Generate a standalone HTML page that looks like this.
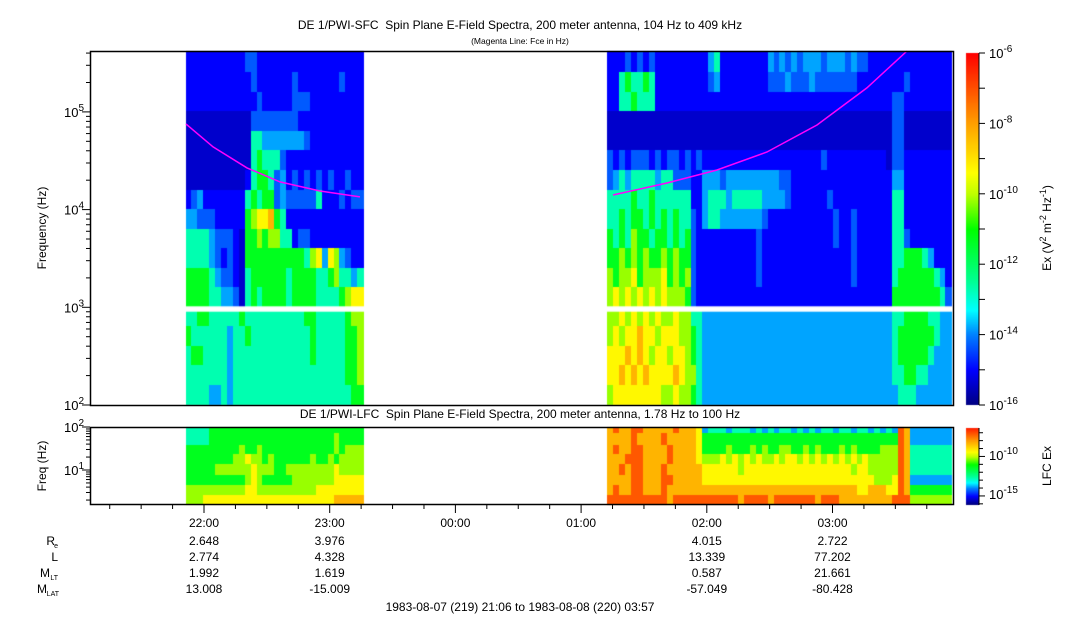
<!DOCTYPE html>
<html><head><meta charset="utf-8">
<style>
html,body{margin:0;padding:0;background:#fff;}
#wrap{position:relative;width:1083px;height:620px;overflow:hidden;font-family:"Liberation Sans",sans-serif;}
canvas,svg{position:absolute;left:0;top:0;}
svg text{white-space:pre;}
</style></head>
<body>
<div id="wrap">
<canvas id="cv" width="1083" height="620"></canvas>
<svg id="sv" width="1083" height="620" font-family="Liberation Sans, sans-serif"></svg>
</div>
<script>
// ---------- data ----------
const levelLog = [-15.9,-15.4,-15.0,-14.3,-13.8,-12.7,-11.3,-10.2,-9.3,-8.3,-7.1];
const segTimes = [[21.857,23.270],[25.214,27.95]];
const sfcRowTopLog = 5.6, sfcRowStep = 0.2;
const sfcA = [
"222222222233222222222222222222",
"222222222223222222322222223222",
"222222222222322222333222222222",
"111111111113333333322222222222",
"111111111115544444443222222222",
"111111111115655532222222222222",
"111111111125665342323232322322",
"234222222256566343333352223233",
"443332222267889652222222222222",
"555543332166767755233222222222",
"555543232166666666665784874322",
"666654332156666665666655675545",
"666655443156566665666655556788",
"556655555655555555556655555677",
"655555545565555555555655555667",
"566555545555555555555655555667",
"555555545555555555555555555667",
"555544545555555555555555555566"];
const sfcB = [
"22"+"232323"+"222222222"+"45"+"22222222"+"434343444344434332"+"2222222222222",
"22"+"565565"+"222222222"+"34"+"22222222"+"333433343333333222"+"2222232222222",
"22"+"556555"+"2222222222222222222"+"222222222222222222"+"2223322222222",
"11"+"111111"+"1111111111111111111"+"111111111111111111"+"1113311111111",
"11"+"111111"+"1111111111111111111"+"111111111111111111"+"1113311111111",
"3232333232332323"+"2222222222222222222232222222222"+"13322222222",
"3454555545533322"+"444344444444433"+"2222222222222222"+"24422222222",
"5555655655555522"+"455545555544443"+"2222223222222222"+"25522222222",
"5565665656565532"+"455444444432222"+"2222222322322222"+"25522222222",
"6565766566565632"+"222222222322222"+"2222222322322222"+"25532222222",
"6676767667676632"+"222222222322222"+"2222222222322222"+"25566654222",
"7677867778676732"+"222222222322222"+"2222222222322222"+"25666666542",
"7878787878777632"+"222222222222222"+"2222222222222222"+"26666666653",
"7787878787787755"+"444444444444444"+"4444444444444444"+"45566665544",
"7878898878887765"+"444444444444444"+"4444444444444444"+"45666666544",
"8889898788788765"+"444444444444444"+"4444444444444444"+"45666665444",
"8898989888898775"+"444444444444444"+"4444444444444444"+"45566554444",
"7888888887787765"+"444444444444444"+"4444444444444444"+"44555444444"];
const lfcEdgesLog = [2.0,1.84,1.58,1.35,1.12,0.88,0.63,0.40,0.21];
const lfcA = [
"555566666666666666666666666666",
"555566666666666666666666676666",
"666666666766766666666666676777",
"666666667787767666666766767777",
"666667777778777667777777787777",
"666666666678766666777777788888",
"777777777788777777777788888888",
"777888888888888888888888899999"];
const lfcB = [
"9a99aa99999a9998"+"455545554545455454545545545545454"+"a9"+"4444444",
"9999a9999a999998"+"666666666666666666666666666666666"+"a9"+"4444444",
"9a99aa9999a99998"+"666676667676677667676667676666777"+"a9"+"5555555",
"999aaa9999a99998"+"777878787877878878787878787877777"+"a9"+"5555555",
"99a9aa999a999999"+"888888788888888888888888878877777"+"a9"+"5555555",
"9999aa999aa99999"+"888888888888888888888888888887778"+"a9"+"4444444",
"9a99aa999a999999"+"999999999999999999999999998899988"+"a9"+"6666666",
"aaaaaaaaaa9aaaaa"+"aaaaaa9aaaa9aaaaaaa9aaa999999999a"+"aa"+"7777777"];
const fceHoursA = [21.857,22.072,22.342,22.605,22.923,23.241];
const fceHzA = [75200,43800,26700,19200,15500,13500];
const fceHoursB = [25.254,25.683,26.081,26.479,26.877,27.274,27.593];
const fceHzB = [14100,18700,25400,38900,73500,176000,420000];
const timeTicks = ["22:00","23:00","00:00","01:00","02:00","03:00"];
const timeTickHours = [22,23,24,25,26,27];
const ephemHours = [22,23,26,27];
const ephemRe = ["2.648","3.976","4.015","2.722"];
const ephemL = ["2.774","4.328","13.339","77.202"];
const ephemMLT = ["1.992","1.619","0.587","21.661"];
const ephemMLAT = ["13.008","-15.009","-57.049","-80.428"];

// ---------- scales ----------
const X0=90, X1=953;
const xT = h => 204 + (h-22)*125.7;
const ySfc = lf => 405 - (lf-2)*97.7;
const yLfc = lf => 470 - (lf-1)*43;
const stops=[[0,[0,0,128]],[0.1,[0,0,255]],[0.2,[0,128,255]],[0.27,[0,255,255]],[0.35,[0,255,150]],[0.5,[0,255,0]],[0.6,[190,255,0]],[0.66,[255,255,0]],[0.8,[255,160,0]],[1,[255,0,0]]];
function colorScale(v){
  let t=Math.max(0,Math.min(1,(v+16)/10));
  for(let i=1;i<stops.length;i++){ if(t<=stops[i][0]){const a=stops[i-1],b=stops[i];const f=(t-a[0])/(b[0]-a[0]);
    const c=a[1].map((x,k)=>Math.round(x+(b[1][k]-x)*f));return `rgb(${c[0]},${c[1]},${c[2]})`;}}
  return 'rgb(255,0,0)';
}
const ctx=document.getElementById('cv').getContext('2d');
function drawGrid(rows, seg, edgeFn, yFn){
  const x0=xT(seg[0]), x1=xT(seg[1]);
  rows.forEach((row,r)=>{
    const n=row.length, w=(x1-x0)/n;
    const [lt,lb]=edgeFn(r); const yt=yFn(lt), yb=yFn(lb);
    for(let c=0;c<n;c++){
      ctx.fillStyle=colorScale(levelLog[parseInt(row[c],16)]);
      ctx.fillRect(Math.floor(x0+c*w), Math.floor(yt), Math.ceil(w)+1, Math.ceil(yb-yt)+1);
    }
  });
}
const sfcEdge = r => [r===0?5.62:sfcRowTopLog-sfcRowStep*r, sfcRowTopLog-sfcRowStep*(r+1)];
drawGrid(sfcA, segTimes[0], sfcEdge, ySfc);
drawGrid(sfcB, segTimes[1], sfcEdge, ySfc);
const lfcEdge = r => [lfcEdgesLog[r], lfcEdgesLog[r+1]];
drawGrid(lfcA, segTimes[0], lfcEdge, yLfc);
drawGrid(lfcB, segTimes[1], lfcEdge, yLfc);
ctx.fillStyle='#fff';
ctx.fillRect(X0+1, ySfc(3.01), X1-X0-1, ySfc(2.955)-ySfc(3.01));
ctx.fillRect(0,0,1083,51); ctx.fillRect(0,405,1083,22); ctx.fillRect(0,505,1083,115);
ctx.fillRect(953,0,130,620);
for(let y=53;y<405;y++){ ctx.fillStyle=colorScale(-6-(y-53)/35.2); ctx.fillRect(966,y,13,1); }
for(let y=428;y<505;y++){ ctx.fillStyle=colorScale(-6.4-(y-428)/7.9); ctx.fillRect(966,y,13,1); }

// ---------- SVG ----------
const NS='http://www.w3.org/2000/svg', sv=document.getElementById('sv');
function el(tag,attrs,parent){const e=document.createElementNS(NS,tag);for(const k in attrs)e.setAttribute(k,attrs[k]);(parent||sv).appendChild(e);return e;}
function txt(x,y,s,size,anchor,parent){const t=el('text',{x:x,y:y,'font-size':size,'text-anchor':anchor||'middle',fill:'#000'},parent);t.textContent=s;return t;}
function pow10(x,y,exp,anchor,size){
  const t=el('text',{x:x,y:y,'font-size':size||13,'text-anchor':anchor||'end',fill:'#000'});
  const a=el('tspan',{},t);a.textContent='10';
  const b=el('tspan',{dy:-6,'font-size':(size||13)-3},t);b.textContent=exp;return t;
}
function fceLine(hs,hz,name){
  const p=hs.map((h,i)=>`${xT(h).toFixed(1)},${ySfc(Math.log10(hz[i])).toFixed(1)}`).join(' ');
  const l=el('polyline',{points:p,fill:'none',stroke:'#ff00ff','stroke-width':1.5});
  
  
}
fceLine(fceHoursA,fceHzA,'fce-line-segment-1');
fceLine(fceHoursB,fceHzB,'fce-line-segment-2');
const f1=el('rect',{x:90.5,y:51.5,width:863,height:354,fill:'none',stroke:'#000','stroke-width':1.5});

const f2=el('rect',{x:90.5,y:427.5,width:863,height:77,fill:'none',stroke:'#000','stroke-width':1.5});

el('line',{x1:979,y1:53,x2:979,y2:405,stroke:'#000'});
el('line',{x1:979,y1:428,x2:979,y2:505,stroke:'#000'});
const t1=txt(520,29,'DE 1/PWI-SFC  Spin Plane E-Field Spectra, 200 meter antenna, 104 Hz to 409 kHz',12);

const t2=txt(520,44,'(Magenta Line: Fce in Hz)',8.5);

const t3=txt(520,418,'DE 1/PWI-LFC  Spin Plane E-Field Spectra, 200 meter antenna, 1.78 Hz to 100 Hz',12);

const ya=el('text',{x:0,y:0,'font-size':12,'text-anchor':'middle',transform:'translate(46,228) rotate(-90)'});ya.textContent='Frequency (Hz)';

const yb=el('text',{x:0,y:0,'font-size':12,'text-anchor':'middle',transform:'translate(46,466) rotate(-90)'});yb.textContent='Freq (Hz)';

for(let k=2;k<=5;k++){for(let m=1;m<=9;m++){const lf=k+Math.log10(m);if(lf>5.62)break;const y=ySfc(lf);
  el('line',{x1:m===1?82:86,y1:y,x2:90,y2:y,stroke:'#000'});}
  pow10(84,ySfc(k)+5,String(k));}
for(let k=0;k<=2;k++){for(let m=1;m<=9;m++){const lf=k+Math.log10(m);if(lf<0.25||lf>2.001)continue;const y=yLfc(lf);
  el('line',{x1:m===1?82:86,y1:y,x2:90,y2:y,stroke:'#000'});}
  if(k>=1)pow10(84,yLfc(k)+5,String(k));}
for(let e=-6;e>=-16;e--){const y=53+(-6-e)*35.2;el('line',{x1:979,y1:y,x2:985,y2:y,stroke:'#000'});
  if(e%2===0)pow10(989,y+5,String(e),'start');}
const cbl=el('text',{x:0,y:0,'font-size':12,'text-anchor':'middle',transform:'translate(1051,228) rotate(-90)'});
cbl.innerHTML='Ex (V<tspan dy="-5" font-size="9">2</tspan><tspan dy="5"> m</tspan><tspan dy="-5" font-size="9">-2</tspan><tspan dy="5"> Hz</tspan><tspan dy="-5" font-size="9">-1</tspan><tspan dy="5">)</tspan>';

for(let e=-7;e>=-16;e--){const y=428+(-6.4-e)*7.9;if(y>505)break;el('line',{x1:979,y1:y,x2:e%5===0?985:983,y2:y,stroke:'#000'});}
pow10(989,460,'-10','start');pow10(989,499,'-15','start');
const cbl2=el('text',{x:0,y:0,'font-size':12,'text-anchor':'middle',transform:'translate(1051,466) rotate(-90)'});cbl2.textContent='LFC Ex';

for(let q=21.25;q<=27.95;q+=0.25){const x=xT(q);const major=Math.abs(q-Math.round(q))<1e-6;
  el('line',{x1:x,y1:505,x2:x,y2:major?513:509,stroke:'#000'});}
timeTicks.forEach((s,i)=>{const t=txt(xT(timeTickHours[i]),527,s,12);
  });
const rowsY=[545,561,577,593];
txt(55,rowsY[0],'R',12,'end');txt(58,rowsY[0]+3,'e',7,'end');
txt(58,rowsY[1],'L',12,'end');
txt(50,rowsY[2],'M',12,'end');txt(58,rowsY[2]+3,'LT',7,'end');
txt(47,rowsY[3],'M',12,'end');txt(59,rowsY[3]+3,'LAT',7,'end');
[ephemRe,ephemL,ephemMLT,ephemMLAT].forEach((arr,r)=>arr.forEach((s,i)=>{
  const t=txt(xT(ephemHours[i]),rowsY[r],s,12);
  }));
const dr=txt(520,611,'1983-08-07 (219) 21:06 to 1983-08-08 (220) 03:57',12);

</script>
</body></html>
